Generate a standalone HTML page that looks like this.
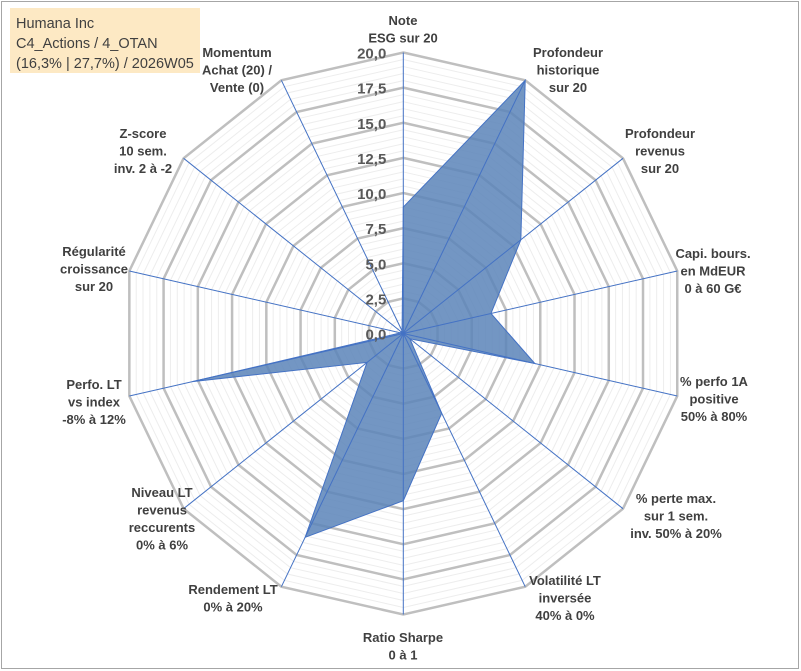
<!DOCTYPE html>
<html><head><meta charset="utf-8"><style>
body{margin:0;background:#fff;font-family:"Liberation Sans",sans-serif;}
#wrap{position:relative;width:801px;height:671px;overflow:hidden;}
#title{position:absolute;left:10px;top:8px;width:190px;height:65px;background:#fde9c4;color:#404040;font-size:14.5px;line-height:20px;padding:6px 0 0 6px;box-sizing:border-box;}
</style></head><body>
<div id="wrap">
<svg id="svg" width="801" height="671" style="position:absolute;left:0;top:0">
<rect x="1.5" y="1.5" width="797" height="667" fill="#fff" stroke="#a6a6a6" stroke-width="1"/>
</svg>
<div id="title">Humana Inc<br>C4_Actions / 4_OTAN<br>(16,3% | 27,7%) / 2026W05</div>
</div>
<script>
const categories=[["Note","ESG sur 20"],["Profondeur","historique","sur 20"],["Profondeur","revenus","sur 20"],["Capi. bours.","en MdEUR","0 à 60 G€"],["% perfo 1A","positive","50% à 80%"],["% perte max.","sur 1 sem.","inv. 50% à 20%"],["Volatilité LT","inversée","40% à 0%"],["Ratio Sharpe","0 à 1"],["Rendement LT","0% à 20%"],["Niveau LT","revenus","reccurents","0% à 6%"],["Perfo. LT","vs index","-8% à 12%"],["Régularité","croissance","sur 20"],["Z-score","10 sem.","inv. 2 à -2"],["Momentum","Achat (20) /","Vente (0)"]];
const values=[9,20,10.7,6.4,9.6,0.6,6.3,11.9,16.1,3.3,15.4,0.2,0.2,0.2];
const tickLabels=["0,0","2,5","5,0","7,5","10,0","12,5","15,0","17,5","20,0"];
const labelPos=[[403,20],[568,52],[660,133],[713,253],[714,381],[676,498],[565,580],[403,637],[233,589],[162,492],[94,384],[94,251],[143,133],[237,52]];
const svg=document.getElementById('svg');const NS='http://www.w3.org/2000/svg';
const cx=403.3,cy=333.5,R=281,maxV=20,N=categories.length;
function pt(i,v){const a=i*2*Math.PI/N;const r=v/maxV*R;return [cx+r*Math.sin(a),cy-r*Math.cos(a)];}
function mk(t,a){const e=document.createElementNS(NS,t);for(const k in a)e.setAttribute(k,a[k]);svg.appendChild(e);return e;}
// minor grid
for(let v=0.5;v<=20.001;v+=0.5){if(Math.abs(v/2.5-Math.round(v/2.5))<0.01)continue;
const p=[];for(let i=0;i<N;i++)p.push(pt(i,v).join(','));
const e=mk('polygon',{points:p.join(' '),fill:'none',stroke:'#ededed','stroke-width':1});

}
for(let k=1;k<tickLabels.length;k++){const v=k*2.5;const p=[];for(let i=0;i<N;i++)p.push(pt(i,v).join(','));
const e=mk('polygon',{points:p.join(' '),fill:'none',stroke:'#bfbfbf','stroke-width':2.5});

}
// series
const sp=values.map((v,i)=>pt(i,v).join(',')).join(' ');
const s=mk('polygon',{points:sp,fill:'#5b84b8','fill-opacity':0.85,stroke:'#4472c4','stroke-width':1});


// axes
for(let i=0;i<N;i++){const p=pt(i,maxV);const l=mk('line',{x1:cx,y1:cy,x2:p[0],y2:p[1],stroke:'#4472c4','stroke-width':1});

}
// ticks
tickLabels.forEach((t,k)=>{const p=pt(0,k*2.5);const e=mk('text',{x:p[0]-17,y:p[1]+6,'text-anchor':'end','font-size':15,'font-weight':'bold',fill:'#595959'});e.textContent=t;

});
// category labels
categories.forEach((lines,i)=>{const [x,y]=labelPos[i];const t=mk('text',{x:x,y:y+5,'text-anchor':'middle','font-size':13,'font-weight':'bold',fill:'#404040'});


lines.forEach((ln,j)=>{const ts=document.createElementNS(NS,'tspan');ts.setAttribute('x',x);ts.setAttribute('dy',j?17.5:0);ts.textContent=ln;t.appendChild(ts);});});
</script>
</body></html>
